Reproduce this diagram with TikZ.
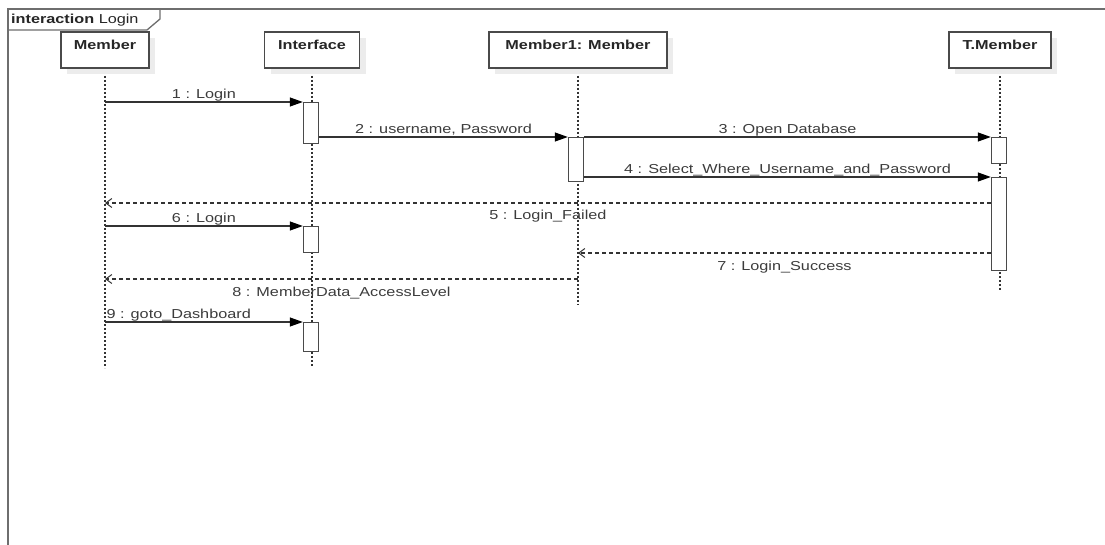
\documentclass[tikz,border=0pt]{standalone}
\usepackage{fontspec}
\setmainfont[FakeStretch=1.25]{Liberation Sans}
\usetikzlibrary{arrows.meta,shadows}
\definecolor{framec}{HTML}{6E6E6E}
\definecolor{linec}{HTML}{333333}
\definecolor{boxc}{HTML}{4A4A4A}
\definecolor{txtc}{HTML}{3C3C3C}
\definecolor{shadc}{HTML}{ECECEC}
\tikzset{
  headbox/.style={draw=boxc, line width=1.5pt, fill=white, minimum height=36pt,
    inner xsep=0pt, inner ysep=0pt, text height=17.5pt, text depth=18.5pt,
    font=\fontsize{13pt}{15pt}\selectfont\bfseries, text=black!85,
    drop shadow={shadow xshift=6pt, shadow yshift=-6pt, fill=shadc, opacity=1}},
  actbar/.style={draw=boxc, line width=1.4pt, fill=white, minimum width=15pt,
    inner sep=0pt, anchor=north},
  lifel/.style={draw=linec, line width=1.3pt, dash pattern=on 2pt off 2pt},
  callmsg/.style={draw=linec, line width=1.2pt,
    -{Triangle[length=13pt,width=9pt,fill=black,color=black]}},
  retmsg/.style={draw=linec, line width=1.1pt, dash pattern=on 4pt off 3pt,
    -{Straight Barb[length=6pt,width=9pt,line width=1pt]}},
  lbl/.style={font=\fontsize{13pt}{15pt}\selectfont, text=txtc, inner sep=0pt, anchor=base},
}
\begin{document}
\begin{tikzpicture}[x=1pt,y=-1pt]
\useasboundingbox (0,0) rectangle (1105,545);
\fill[white] (0,0) rectangle (1105,545);

% frame
\draw[framec, line width=2pt] (1105,9) -- (8,9) -- (8,545);
\draw[framec, line width=1.3pt] (8,30) -- (147,30) -- (160,19) -- (160,9);
\node[lbl, anchor=base west, text=black!85] (title) at (11,24) {\textbf{interaction} Login};

% lifeline ends
\coordinate (mEnd) at (105,368);
\coordinate (iEnd) at (312,367);
\coordinate (uEnd) at (578,305);
\coordinate (tEnd) at (1000,290);

% lifelines
\draw[lifel] (105,68) -- (mEnd);
\draw[lifel] (312,68) -- (iEnd);
\draw[lifel] (578,68) -- (uEnd);
\draw[lifel] (1000,68) -- (tEnd);

% headers
\node[headbox, minimum width=88pt] (m) at (105,50) {Member};
\node[headbox, minimum width=95pt] (i) at (312,50) {Interface};
\node[headbox, minimum width=178pt] (u) at (578,50) {Member1: Member};
\node[headbox, minimum width=102pt] (t) at (1000,50) {T.Member};

% activation bars
\node[actbar, minimum height=41pt] (a1) at (311,102) {};
\node[actbar, minimum height=44pt] (a2) at (576,137) {};
\node[actbar, minimum height=26pt] (a3) at (999,137) {};
\node[actbar, minimum height=93pt] (a4) at (999,177) {};
\node[actbar, minimum height=26pt] (a5) at (311,226) {};
\node[actbar, minimum height=29pt] (a6) at (311,322) {};

% return message rows
\coordinate (r5) at (0,203);
\coordinate (r7) at (0,253);
\coordinate (r8) at (0,279);

% messages
\draw[callmsg] (m.south |- a1.north) -- (a1.north west)
  node[lbl, midway, yshift=3.5pt] {1 : Login};
\draw[callmsg] (a1.east |- a2.north) -- (a2.north west)
  node[lbl, midway, yshift=3.5pt] {2 : username, Password};
\draw[callmsg] (a2.north east) -- (a3.north west)
  node[lbl, midway, yshift=3.5pt] {3 : Open Database};
\draw[callmsg] (a2.east |- a4.north) -- (a4.north west)
  node[lbl, midway, yshift=3.5pt] {4 : Select\_Where\_Username\_and\_Password};
\draw[retmsg] (a4.west |- r5) -- (m.south |- r5)
  node[lbl, midway, yshift=-17pt] {5 : Login\_Failed};
\draw[callmsg] (m.south |- a5.north) -- (a5.north west)
  node[lbl, midway, yshift=3.5pt] {6 : Login};
\draw[retmsg] (a4.west |- r7) -- (u.south |- r7)
  node[lbl, midway, yshift=-17pt] {7 : Login\_Success};
\draw[retmsg] (u.south |- r8) -- (m.south |- r8)
  node[lbl, midway, yshift=-17pt] {8 : MemberData\_AccessLevel};
\draw[callmsg] (m.south |- a6.north) -- (a6.north west)
  node[lbl, pos=0, anchor=base west, xshift=1pt, yshift=3.5pt] {9 : goto\_Dashboard};
\end{tikzpicture}
\end{document}
